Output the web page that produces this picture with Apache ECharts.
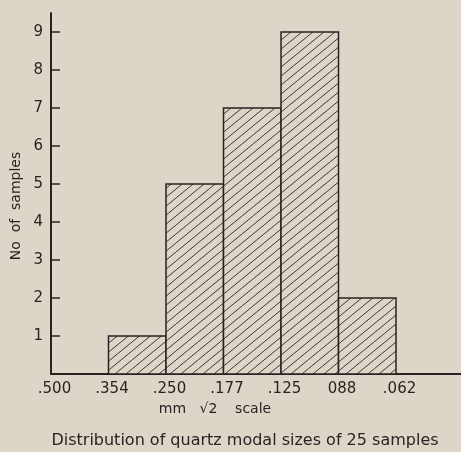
<!DOCTYPE html>
<html><head><meta charset="utf-8">
<script src="https://cdn.jsdelivr.net/npm/echarts@6/dist/echarts.min.js"></script>
<style>html,body{margin:0;padding:0;background:#ddd6c8;}#c{width:461px;height:452px;}</style>
</head><body><div id="c"></div>
<script>
const tickLabels = ['.500', '.354', '.250', '.177', '.125', '088', '.062'];
const binStarts = [1, 2, 3, 4, 5];
const counts = [1, 5, 7, 9, 2];
const yTicks = [1, 2, 3, 4, 5, 6, 7, 8, 9];

const ink = '#2a2222';
const bg = '#ddd6c8';
const TW = 11, TH = 9;
const tile = document.createElement('canvas');
tile.width = TW; tile.height = TH;
const g = tile.getContext('2d');
g.fillStyle = bg; g.fillRect(0, 0, TW, TH);
g.strokeStyle = ink; g.lineWidth = 0.9;
g.beginPath();
g.moveTo(-TW, 2 * TH); g.lineTo(2 * TW, -TH);
g.stroke();

const data = binStarts.map((s, i) => [s, s + 1, counts[i]]);
const chart = echarts.init(document.getElementById('c'));
const font = '"DejaVu Sans", sans-serif';
chart.setOption({
  backgroundColor: bg,
  animation: false,
  graphic: [
    { type: 'text', x: 16, y: 206, rotation: Math.PI / 2,
      style: { text: 'No  of  samples', font: '14px ' + font, fill: ink, align: 'center', verticalAlign: 'middle' } },
    { type: 'text', x: 215, y: 409,
      style: { text: 'mm   √2    scale', font: '14px ' + font, fill: ink, align: 'center', verticalAlign: 'middle' } },
    { type: 'text', x: 245, y: 441,
      style: { text: 'Distribution of quartz modal sizes of 25 samples', font: '16px ' + font, fill: ink, align: 'center', verticalAlign: 'middle' } }
  ],
  grid: { left: 51, right: 0, top: 13, bottom: 78 },
  xAxis: {
    type: 'value', min: 0, max: 7.13, interval: 1,
    splitLine: { show: false },
    axisLine: { show: true, lineStyle: { color: ink, width: 2 } },
    axisTick: { show: false },
    axisLabel: {
      customValues: [0, 1, 2, 3, 4, 5, 6],
      formatter: v => tickLabels[v] || '',
      margin: 8, padding: [0, 0, 0, 7], fontFamily: font, fontSize: 15, color: ink
    }
  },
  yAxis: {
    type: 'value', min: 0, max: 9.5, interval: 1,
    splitLine: { show: false },
    axisLine: { show: true, lineStyle: { color: ink, width: 2 } },
    axisTick: { show: true, inside: true, length: 9, customValues: yTicks, lineStyle: { color: ink, width: 1.5 } },
    axisLabel: { customValues: yTicks, margin: 8, fontFamily: font, fontSize: 15, color: ink }
  },
  series: [{
    type: 'custom',
    data: data,
    renderItem: (params, api) => {
      const p0 = api.coord([api.value(0), 0]);
      const p1 = api.coord([api.value(1), api.value(2)]);
      return {
        type: 'rect',
        shape: { x: p0[0], y: p1[1], width: p1[0] - p0[0], height: p0[1] - p1[1] },
        style: { fill: { image: tile, repeat: 'repeat' }, stroke: ink, lineWidth: 1.5 }
      };
    }
  }]
});
</script></body></html>
